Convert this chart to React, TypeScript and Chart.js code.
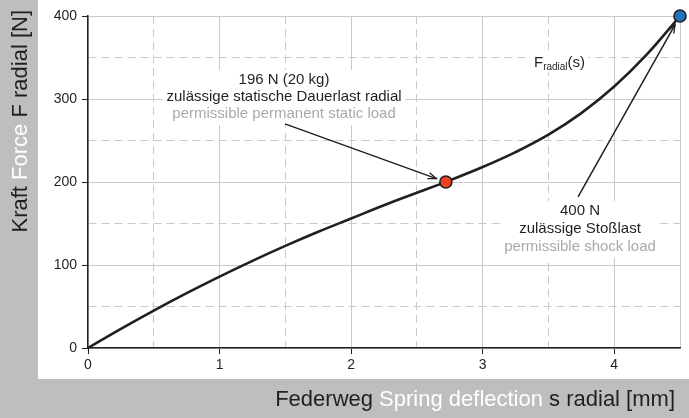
import { useEffect, useRef } from 'react';
import { Chart, registerables } from 'chart.js';

Chart.register(...registerables);

// Spring curve F_radial(s)
const deflection = [0, 0.25, 0.5, 0.75, 1, 1.25, 1.5, 1.75, 2, 2.25, 2.5, 2.75, 3, 3.25, 3.5, 3.75, 4, 4.25, 4.5];
const force = [0, 23, 45, 66, 86, 105, 123, 140, 156, 172, 187, 202, 218, 236, 257, 283, 315, 354, 400];

// Marked load points
const staticLoadPoint = [2.72, 200];
const shockLoadPoint = [4.5, 400];

// Tick labels
const xTickValues = [0, 1, 2, 3, 4];
const yTickValues = [0, 100, 200, 300, 400];

// Texts
const staticLines = ['196 N (20 kg)', 'zulässige statische Dauerlast radial', 'permissible permanent static load'];
const shockLines = ['400 N', 'zulässige Stoßlast', 'permissible shock load'];
const xTitleParts = ['Federweg ', 'Spring deflection', ' s radial [mm]'];
const yTitleParts = ['Kraft ', 'Force', ' F radial [N]'];

const FONT = '"Liberation Sans", Arial, Helvetica, sans-serif';
const DARK = '#231f20';
const GREY_TEXT = '#a7a9ac';
const BG = '#bcbec0';

function drawArrow(ctx: CanvasRenderingContext2D, x1: number, y1: number, x2: number, y2: number, gap: number) {
  const dx = x2 - x1, dy = y2 - y1;
  const len = Math.hypot(dx, dy);
  const ux = dx / len, uy = dy / len;
  const tx = x2 - ux * gap, ty = y2 - uy * gap;
  ctx.save();
  ctx.strokeStyle = DARK;
  ctx.lineWidth = 1.5;
  ctx.beginPath();
  ctx.moveTo(x1, y1);
  ctx.lineTo(tx, ty);
  ctx.stroke();
  const a = Math.atan2(uy, ux);
  const hl = 9, ha = 0.36;
  ctx.lineWidth = 1.3;
  ctx.beginPath();
  ctx.moveTo(tx - hl * Math.cos(a - ha), ty - hl * Math.sin(a - ha));
  ctx.lineTo(tx, ty);
  ctx.lineTo(tx - hl * Math.cos(a + ha), ty - hl * Math.sin(a + ha));
  ctx.stroke();
  ctx.restore();
}

function drawBlock(ctx: CanvasRenderingContext2D, cx: number, cy: number, lines: string[], spacing: number) {
  ctx.save();
  ctx.font = `15px ${FONT}`;
  const w = Math.max(...lines.map((l) => ctx.measureText(l).width));
  ctx.fillStyle = '#fff';
  ctx.fillRect(cx - w / 2 - 4, cy - 10, w + 8, spacing * (lines.length - 1) + 21);
  ctx.textAlign = 'center';
  ctx.textBaseline = 'middle';
  lines.forEach((l, i) => {
    ctx.fillStyle = i === lines.length - 1 ? GREY_TEXT : DARK;
    ctx.fillText(l, cx, cy + i * spacing);
  });
  ctx.restore();
}

const decorPlugin = {
  id: 'decor',
  beforeDraw(chart: any) {
    const { ctx, chartArea: ca, width, height } = chart;
    ctx.save();
    ctx.fillStyle = BG;
    ctx.fillRect(0, 0, width, height);
    ctx.fillStyle = '#fff';
    ctx.fillRect(ca.left - 50, 0, width - (ca.left - 50), ca.bottom + 31);
    ctx.restore();
  },
  beforeDatasetsDraw(chart: any) {
    const { ctx } = chart;
    const xs = chart.scales.x, ys = chart.scales.y;
    const px = (v: number) => xs.getPixelForValue(v);
    const py = (v: number) => ys.getPixelForValue(v);

    // static load annotation
    drawBlock(ctx, px(1.49), py(323), staticLines, 17);
    drawArrow(ctx, px(1.497), py(270), px(staticLoadPoint[0]), py(staticLoadPoint[1]), 10);

    // shock load annotation
    drawBlock(ctx, px(3.74), py(165), shockLines, 17.8);
    drawArrow(ctx, px(3.725), py(182), px(shockLoadPoint[0]), py(shockLoadPoint[1]), 10);

    // F_radial(s) label
    ctx.save();
    const lx = px(3.39), ly = py(339);
    ctx.font = `15px ${FONT}`;
    const wF = ctx.measureText('F').width;
    const wP = ctx.measureText('(s)').width;
    ctx.font = `10px ${FONT}`;
    const wSub = ctx.measureText('radial').width;
    ctx.fillStyle = '#fff';
    ctx.fillRect(lx - 3, ly - 14, wF + wSub + wP + 6, 20);
    ctx.fillStyle = DARK;
    ctx.textBaseline = 'alphabetic';
    ctx.textAlign = 'left';
    ctx.font = `15px ${FONT}`;
    ctx.fillText('F', lx, ly);
    ctx.font = `10px ${FONT}`;
    ctx.fillText('radial', lx + wF, ly + 3);
    ctx.font = `15px ${FONT}`;
    ctx.fillText('(s)', lx + wF + wSub, ly);
    ctx.restore();
  },
  afterDraw(chart: any) {
    const { ctx, chartArea: ca } = chart;
    ctx.save();
    ctx.font = `22px ${FONT}`;
    ctx.textBaseline = 'alphabetic';
    ctx.textAlign = 'left';
    // x title, right aligned
    const widths = xTitleParts.map((t) => ctx.measureText(t).width);
    let x = ca.right - 5 - widths.reduce((a, b) => a + b, 0);
    xTitleParts.forEach((t, i) => {
      ctx.fillStyle = i === 1 ? '#ffffff' : DARK;
      ctx.fillText(t, x, ca.bottom + 58);
      x += widths[i];
    });
    // y title, rotated
    const yw = yTitleParts.map((t) => ctx.measureText(t).width);
    const total = yw.reduce((a, b) => a + b, 0);
    ctx.translate(ca.left - 61.5, ca.top - 6 + total);
    ctx.rotate(-Math.PI / 2);
    let y = 0;
    yTitleParts.forEach((t, i) => {
      ctx.fillStyle = i === 1 ? '#ffffff' : DARK;
      ctx.fillText(t, y, 0);
      y += yw[i];
    });
    ctx.restore();
  },
};

export default function App() {
  const ref = useRef<HTMLCanvasElement | null>(null);

  useEffect(() => {
    if (!ref.current) return;
    const chart = new Chart(ref.current, {
      type: 'line',
      data: {
        datasets: [
          {
            data: deflection.map((s, i) => ({ x: s, y: force[i] })),
            borderColor: DARK,
            borderWidth: 2.6,
            pointRadius: 0,
            fill: false,
            tension: 0.4,
            clip: false as any,
            order: 2,
          },
          {
            data: [{ x: staticLoadPoint[0], y: staticLoadPoint[1] }],
            showLine: false,
            pointRadius: 6,
            pointBorderWidth: 1.6,
            pointBackgroundColor: '#ee4023',
            pointBorderColor: DARK,
            clip: false as any,
            order: 1,
          },
          {
            data: [{ x: shockLoadPoint[0], y: shockLoadPoint[1] }],
            showLine: false,
            pointRadius: 6,
            pointBorderWidth: 1.6,
            pointBackgroundColor: '#1f74bb',
            pointBorderColor: DARK,
            clip: false as any,
            order: 0,
          },
        ],
      },
      options: {
        responsive: false,
        animation: false,
        events: [],
        layout: { padding: { top: 16, right: 9, left: 0, bottom: 0 } },
        plugins: { legend: { display: false }, tooltip: { enabled: false } },
        scales: {
          x: {
            type: 'linear',
            min: 0,
            max: 4.5,
            afterFit: (s: any) => { s.height = 70; },
            ticks: {
              stepSize: 0.5,
              autoSkip: false,
              maxRotation: 0,
              padding: 3,
              color: DARK,
              font: { family: FONT, size: 14 },
              callback: (v: any) => (xTickValues.includes(Number(v)) ? String(v) : ''),
            },
            grid: {
              color: '#c9c9c9',
              lineWidth: 1,
              tickLength: 6,
              tickWidth: 1,
              tickColor: (c: any) => (c.tick && xTickValues.includes(c.tick.value) ? DARK : 'rgba(0,0,0,0)'),
            },
            border: {
              color: DARK,
              width: 1.5,
              dash: (c: any) => (c.tick && c.tick.value % 1 !== 0 && c.tick.value !== 4.5 ? [8, 5] : []),
            },
          },
          y: {
            type: 'linear',
            min: 0,
            max: 400,
            afterFit: (s: any) => { s.width = 88; },
            ticks: {
              stepSize: 50,
              autoSkip: false,
              padding: 5,
              color: DARK,
              font: { family: FONT, size: 14 },
              callback: (v: any) => (yTickValues.includes(Number(v)) ? String(v) : ''),
            },
            grid: {
              color: '#c9c9c9',
              lineWidth: 1,
              tickLength: 6,
              tickWidth: 1,
              tickColor: (c: any) => (c.tick && yTickValues.includes(c.tick.value) ? DARK : 'rgba(0,0,0,0)'),
            },
            border: {
              color: DARK,
              width: 1.5,
              dash: (c: any) => (c.tick && c.tick.value % 100 !== 0 ? [8, 5] : []),
            },
          },
        },
      } as any,
      plugins: [decorPlugin],
    });
    return () => chart.destroy();
  }, []);

  return (
    <div style={{ position: 'absolute', left: 0, top: 0, width: 689, height: 418 }}>
      <canvas ref={ref} width={689} height={418} style={{ display: 'block', width: 689, height: 418 }} />
    </div>
  );
}
